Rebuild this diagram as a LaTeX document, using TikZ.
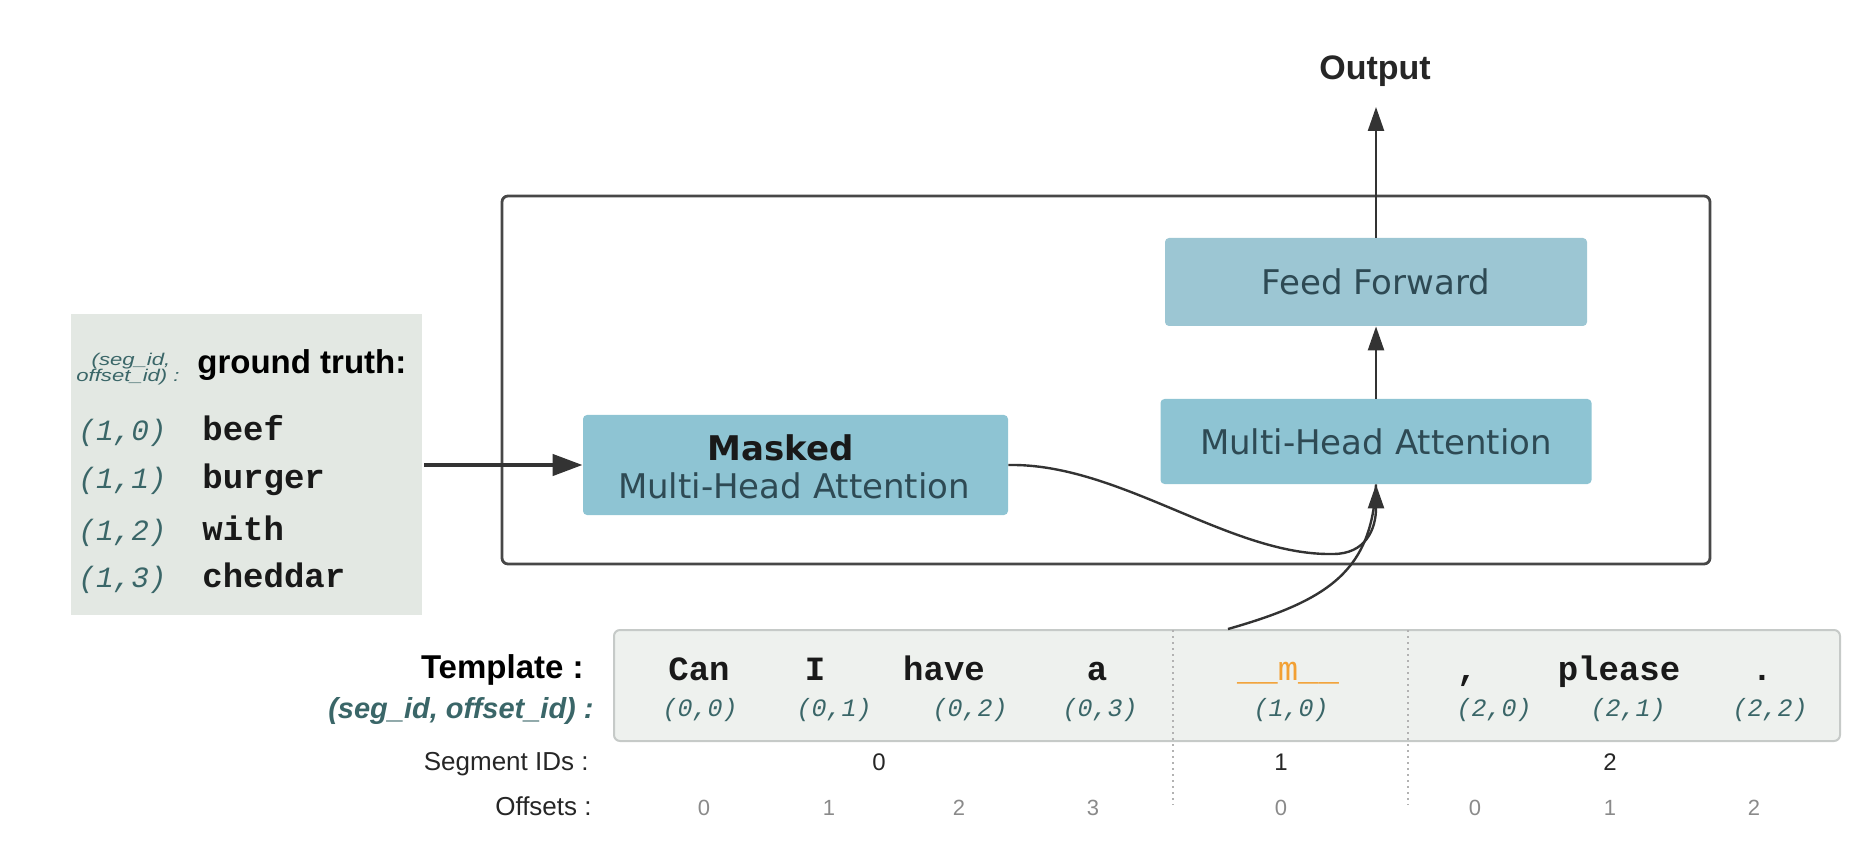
\documentclass[tikz,border=0pt]{standalone}
\usepackage{fontspec}
\usepackage{graphicx}
\setmainfont{Liberation Sans}
\newfontfamily\dv{DejaVu Sans}
\newfontfamily\lmono{Liberation Mono}
\usetikzlibrary{arrows.meta}
\definecolor{boxblue}{HTML}{8EC4D3}
\definecolor{ffblue}{HTML}{9CC6D3}
\definecolor{boxtext}{HTML}{2E4A54}
\definecolor{gtfill}{HTML}{E3E8E3}
\definecolor{tplfill}{HTML}{EEF1EE}
\definecolor{tplline}{HTML}{C6CAC8}
\definecolor{tealc}{HTML}{3A6668}
\definecolor{orangec}{HTML}{F2A033}
\definecolor{arrowc}{HTML}{333333}
\definecolor{offc}{HTML}{8A8A8A}
\tikzset{
  blk/.style={rectangle, rounded corners=2pt, fill=boxblue, inner sep=0pt, text=boxtext, font=\dv\fontsize{17}{20}\selectfont},
  arr/.style={draw=arrowc, line width=1.2pt, -{Triangle[length=12pt,width=8pt]}},
  conn/.style={draw=arrowc, line width=1.2pt},
  thickarr/.style={draw=arrowc, line width=2.2pt, -{Triangle[length=15pt,width=10.5pt]}},
  word/.style={font=\lmono\bfseries\fontsize{17}{20}\selectfont, anchor=base, inner sep=0pt, text=black!90},
  tcoord/.style={font=\lmono\itshape\fontsize{12.5}{14}\selectfont, anchor=base, inner sep=0pt, text=tealc},
  gtcoord/.style={font=\lmono\itshape\fontsize{14.7}{17}\selectfont, anchor=base west, inner sep=0pt, text=tealc},
  gtword/.style={font=\lmono\bfseries\fontsize{17}{20}\selectfont, anchor=base west, inner sep=0pt, text=black!90},
  gtsmall/.style={font=\itshape\fontsize{8.5}{10}\selectfont, anchor=base, inner sep=0pt, text=tealc},
  seglab/.style={font=\fontsize{13}{15}\selectfont, anchor=base east, inner sep=0pt, text=black!85},
  segnum/.style={font=\fontsize{12}{14}\selectfont, anchor=base, inner sep=0pt, text=black!85},
  offnum/.style={font=\fontsize{11}{13}\selectfont, anchor=base, inner sep=0pt, text=offc},
  sepline/.style={draw=gray!60, line width=1pt, dotted},
}
\begin{document}
\begin{tikzpicture}[x=0.5pt,y=-0.5pt]
\useasboundingbox (0,0) rectangle (1857,844);

% main block
\node[draw=arrowc!90, line width=1.4pt, rounded corners=3pt, minimum width=604pt, minimum height=184pt, inner sep=0pt] (block) at (1106,380) {};

% left ground truth box
\node[fill=gtfill, minimum width=175.5pt, minimum height=150.5pt, inner sep=0pt] (gt) at (246.5,464.5) {};
\node[gtsmall] (gtl1) at (131,365) {\scalebox{1.3}[1]{(seg\_id,}};
\node[gtsmall] (gtl2) at (128,382) {\scalebox{1.3}[1]{offset\_id) :}};
\node[font=\bfseries\fontsize{16.5}{18}\selectfont, anchor=base west, inner sep=0pt] (gth) at (197,374) {ground truth:};
\node[gtcoord] (g10) at (78,440) {(1,0)};
\node[gtword] (gw1) at (202,440) {beef};
\node[gtcoord] (g11) at (78,488) {(1,1)};
\node[gtword] (gw2) at (202,488) {burger};
\node[gtcoord] (g12) at (78,540) {(1,2)};
\node[gtword] (gw3) at (202,540) {with};
\node[gtcoord] (g13) at (78,587) {(1,3)};
\node[gtword] (gw4) at (202,587) {cheddar};

% blue blocks
\node[blk, minimum width=212.5pt, minimum height=50pt] (masked) at (795.5,465) {};
\node[anchor=base, inner sep=0pt, font=\dv\bfseries\fontsize{17}{20}\selectfont, text=black!90] (maskedtxt) at (781,460) {Masked};
\node[anchor=base, inner sep=0pt, font=\dv\fontsize{17}{20}\selectfont, text=boxtext] (maskedsub) at (794,498) {Multi-Head Attention};
\node[blk, minimum width=215.5pt, minimum height=42.5pt] (mha) at (1376,441.5) {Multi-Head Attention};
\node[blk, fill=ffblue, minimum width=211pt, minimum height=44pt] (ff) at (1376,282) {Feed Forward};

% output
\node[font=\bfseries\fontsize{17}{20}\selectfont, anchor=base, inner sep=0pt, text=black!85] (out) at (1375,80) {Output};
\coordinate (outtip) at (1376,107);
\draw[arr] (ff.north) -- (outtip);
\draw[arr] (mha.north) -- (ff.south);

% thick input arrow
\coordinate (gtstart) at (424,465);
\draw[thickarr] (gtstart) -- (masked.west);

% template box
\node[fill=tplfill, draw=tplline, line width=1pt, rounded corners=3pt, minimum width=613pt, minimum height=55.5pt, inner sep=0pt] (tpl) at (1227,685.5) {};
\coordinate (tplstart) at (1228,629);

% curves into MHA
\draw[conn] (tplstart) .. controls (1330,600) and (1372,570) .. (mha.south);
\draw[arr] (masked.east) .. controls (1120,463) and (1230,556) .. (1333,554) .. controls (1365,554) and (1376,530) .. (mha.south);

% separators
\draw[sepline] (1173,630) -- (1173,805);
\draw[sepline] (1408,630) -- (1408,805);

% row labels
\node[font=\bfseries\fontsize{16.5}{19}\selectfont, anchor=base east, inner sep=0pt] (tl1) at (584,678) {Template :};
\node[font=\bfseries\itshape\fontsize{14.5}{17}\selectfont, anchor=base east, inner sep=0pt, text=tealc] (tl2) at (594,718) {(seg\_id, offset\_id) :};
\node[seglab] (tl3) at (589,770) {Segment IDs :};
\node[seglab] (tl4) at (592,815) {Offsets :};

% words
\node[word] (w1) at (699,680) {Can};
\node[word] (w2) at (815,680) {I};
\node[word] (w3) at (944,680) {have};
\node[word] (w4) at (1097,680) {a};
\node[word, font=\lmono\fontsize{17}{20}\selectfont, text=orangec] (w5) at (1288,680) {\_\_m\_\_};
\node[word] (w6) at (1467,680) {,};
\node[word] (w7) at (1619,680) {please};
\node[word] (w8) at (1762,680) {.};

% coordinates
\node[tcoord] (c1) at (700,716) {(0,0)};
\node[tcoord] (c2) at (834,716) {(0,1)};
\node[tcoord] (c3) at (970,716) {(0,2)};
\node[tcoord] (c4) at (1100,716) {(0,3)};
\node[tcoord] (c5) at (1291,716) {(1,0)};
\node[tcoord] (c6) at (1494,716) {(2,0)};
\node[tcoord] (c7) at (1628,716) {(2,1)};
\node[tcoord] (c8) at (1770,716) {(2,2)};

% segment ids
\node[segnum] (s0) at (879,770) {0};
\node[segnum] (s1) at (1281,770) {1};
\node[segnum] (s2) at (1610,770) {2};

% offsets
\node[offnum] (o1) at (704,815) {0};
\node[offnum] (o2) at (829,815) {1};
\node[offnum] (o3) at (959,815) {2};
\node[offnum] (o4) at (1093,815) {3};
\node[offnum] (o5) at (1281,815) {0};
\node[offnum] (o6) at (1475,815) {0};
\node[offnum] (o7) at (1610,815) {1};
\node[offnum] (o8) at (1754,815) {2};
\end{tikzpicture}
\end{document}
